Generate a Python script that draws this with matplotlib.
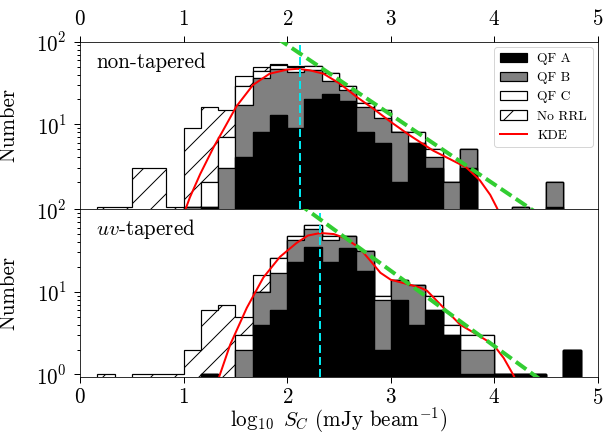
import matplotlib.pyplot as plt
import numpy as np

plt.rcParams.update({
    'font.family': 'serif',
    'font.serif': ['cmr10'],
    'mathtext.fontset': 'cm',
    'axes.formatter.use_mathtext': True,
    'font.size': 21,
    'hatch.linewidth': 1.0,
})

# 30 bins of 1/6 dex in log10 S_C
bin_edges = np.linspace(0, 5, 31)
bin_centres = 0.5 * (bin_edges[:-1] + bin_edges[1:])

# non-tapered counts per bin
nt_qf_a = [0, 0, 0, 0, 0, 0, 0, 1, 0, 4, 8, 13, 9, 20, 23, 19, 8, 6, 2, 6, 3, 0, 3, 0, 0, 0, 0, 1, 0, 0]
nt_qf_b = [0, 0, 0, 0, 0, 0, 1, 0, 3, 13, 28, 34, 34, 26, 10, 7, 8, 6, 6, 0, 1, 2, 2, 0, 0, 1, 0, 1, 0, 0]
nt_qf_c = [0, 0, 0, 0, 0, 0, 0, 1, 4, 12, 8, 5, 6, 5, 9, 3, 2, 3, 0, 2, 1, 0, 0, 0, 0, 0, 0, 0, 0, 0]
nt_norrl = [0, 1, 1, 3, 3, 1, 8, 14, 8, 9, 5, 1, 2, 0, 0, 0, 0, 0, 0, 0, 0, 0, 0, 0, 0, 0, 0, 0, 0, 0]

# uv-tapered counts per bin
uv_qf_a = [0, 0, 0, 0, 0, 0, 0, 1, 0, 0, 4, 6, 23, 35, 23, 34, 18, 2, 8, 4, 6, 3, 1, 1, 1, 1, 1, 0, 2, 0]
uv_qf_b = [0, 0, 0, 0, 0, 0, 0, 0, 0, 2, 6, 11, 19, 23, 19, 14, 13, 6, 6, 8, 0, 0, 1, 1, 0, 0, 0, 0, 0, 0]
uv_qf_c = [0, 0, 0, 0, 0, 0, 0, 0, 0, 1, 0, 9, 6, 6, 5, 0, 0, 1, 0, 0, 3, 1, 1, 1, 0, 0, 0, 0, 0, 0]
uv_norrl = [0, 1, 0, 1, 1, 1, 2, 5, 7, 2, 6, 0, 0, 0, 0, 0, 0, 0, 0, 0, 0, 0, 0, 0, 0, 0, 0, 0, 0, 0]

# KDE curves
nt_kde_x = [0.97, 1.02, 1.06, 1.16, 1.29, 1.38, 1.51, 1.67, 1.83, 2.0, 2.1, 2.22, 2.35, 2.51,
            2.67, 2.83, 3.0, 3.18, 3.41, 3.57, 3.73, 3.86, 3.96, 4.02, 4.08]
nt_kde_y = [0.6, 0.95, 1.3, 2.5, 5.3, 8.4, 16.5, 30, 41, 46, 47, 45, 41, 31,
            21.5, 15.5, 10.7, 7.4, 4.8, 3.8, 3.0, 2.1, 1.4, 1.0, 0.7]
uv_kde_x = [1.30, 1.345, 1.45, 1.61, 1.77, 1.93, 2.09, 2.2, 2.32, 2.45, 2.55, 2.69, 2.8,
            2.9, 3.0, 3.15, 3.28, 3.35, 3.51, 3.67, 3.83, 3.99, 4.09, 4.18, 4.24]
uv_kde_y = [0.6, 0.95, 2.3, 6.4, 14.9, 26.5, 39, 48, 51.5, 50, 45, 34.7, 24,
            17, 14, 12.5, 11.3, 10.3, 6.4, 4.0, 3.05, 2.3, 1.58, 1.0, 0.7]

# medians and power-law fits
nt_median = 2.12
uv_median = 2.32
nt_fit_x = [1.9, 4.5]
nt_fit_y = [111, 0.71]
uv_fit_x = [2.1, 4.5]
uv_fit_y = [119, 0.77]


def draw_panel(ax, counts, kde_x, kde_y, median, fit_x, fit_y, title):
    colors = ['black', 'grey', 'white', 'white']
    labels = ['QF A', 'QF B', 'QF C', 'No RRL']
    n, bins, patches = ax.hist([bin_centres] * 4, bins=bin_edges, weights=counts,
                               stacked=True, histtype='stepfilled', color=colors,
                               edgecolor='black', linewidth=1.2, label=labels, log=True)
    patches[3][0].set_hatch('/')

    kde_line, = ax.plot(kde_x, kde_y, color='red', lw=2, label='KDE', zorder=3)
    ax.axvline(median, color='#00e8f0', lw=2, ls=(0, (4, 2)), zorder=4)
    ax.plot(fit_x, fit_y, color='limegreen', lw=4, ls=(0, (3.2, 1.3)), zorder=5)

    ax.set_xlim(0, 5)
    ax.set_ylim(0.94, 100)
    ax.set_ylabel('Number')
    ax.yaxis.set_label_coords(-0.119, 0.5)
    ax.text(0.031, 0.846, title, transform=ax.transAxes, ha='left', va='baseline')
    ax.tick_params(which='major', length=6, width=1, pad=7)
    ax.tick_params(which='minor', length=3, width=1)
    return [p[0] for p in patches] + [kde_line]


fig = plt.figure(figsize=(606 / 72, 440 / 72), dpi=72)
ax1 = fig.add_subplot(2, 1, 1)
ax2 = fig.add_subplot(2, 1, 2, sharex=ax1)
fig.subplots_adjust(left=0.132, right=0.9868, top=0.9052, bottom=0.1439, hspace=0)

handles = draw_panel(ax1, [nt_qf_a, nt_qf_b, nt_qf_c, nt_norrl], nt_kde_x, nt_kde_y,
                     nt_median, nt_fit_x, nt_fit_y, 'non-tapered')
draw_panel(ax2, [uv_qf_a, uv_qf_b, uv_qf_c, uv_norrl], uv_kde_x, uv_kde_y,
           uv_median, uv_fit_x, uv_fit_y, r'$uv$-tapered')

ax1.xaxis.tick_top()
ax1.set_yticks([10, 100])
ax2.tick_params(axis='x', pad=5)
ax2.set_xlabel(r'$\log_{10}\ S_C$ (mJy beam$^{-1}$)', labelpad=-2)

ax1.legend(handles=handles, loc='upper right', fontsize=13.5, fancybox=True,
           framealpha=0.8, borderaxespad=0.4)

plt.savefig('out.png', dpi=72)
